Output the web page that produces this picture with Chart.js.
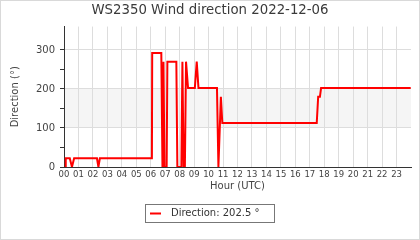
<!DOCTYPE html>
<html>
<head>
<meta charset="utf-8">
<script src="https://cdn.jsdelivr.net/npm/chart.js@4"></script>
<style>
  html, body { margin: 0; padding: 0; background: #fff; }
  #wrap { width: 420px; height: 240px; }
</style>
</head>
<body>
<div id="wrap"><canvas id="windChart" width="420" height="240"></canvas></div>
<script>
    // heure UTC (décimale) et direction du vent (°)
    const hours = [0.08, 0.12, 0.40, 0.55, 0.70, 2.28, 2.38, 2.48, 6.08, 6.10,
                   6.73, 6.81, 6.88, 6.95, 7.10, 7.15, 7.77, 7.84, 8.12, 8.19,
                   8.27, 8.36, 8.44, 8.58, 9.05, 9.18, 9.30, 10.58, 10.68, 10.85,
                   10.95, 17.48, 17.58, 17.70, 17.78, 23.98];
    const directions = [0, 22.5, 22.5, 0, 22.5, 22.5, 0, 22.5, 22.5, 292.5,
                        292.5, 0, 270, 0, 0, 270, 270, 0, 0, 270,
                        0, 0, 270, 202.5, 202.5, 270, 202.5, 202.5, 0, 180,
                        112.5, 112.5, 180, 180, 202.5, 202.5];
    const hourTicks = ['00','01','02','03','04','05','06','07','08','09','10','11',
                       '12','13','14','15','16','17','18','19','20','21','22','23'];
    const yLabels = [0, 100, 200, 300];
    const bandRange = [100, 200];

    const latest = directions[directions.length - 1];
    const seriesLabel = 'Direction: ' + latest + ' °';
    const FONT = 'DejaVu Sans';

    // fond blanc + bande grise 100-200
    const backgroundPlugin = {
        id: 'background',
        beforeDraw(chart) {
            const { ctx, chartArea, scales } = chart;
            ctx.save();
            ctx.fillStyle = '#fff';
            ctx.fillRect(0, 0, chart.width, chart.height);
            const yTop = scales.y.getPixelForValue(bandRange[1]);
            const yBot = scales.y.getPixelForValue(bandRange[0]);
            ctx.fillStyle = '#f5f5f5';
            ctx.fillRect(chartArea.left, yTop, chartArea.right - chartArea.left, yBot - yTop);
            ctx.restore();
        }
    };

    // légende encadrée + bordure de l'image
    const legendPlugin = {
        id: 'boxLegend',
        afterDraw(chart) {
            const ctx = chart.ctx;
            const ds = chart.data.datasets[0];
            ctx.save();
            ctx.font = '10px "' + FONT + '"';
            const tw = ctx.measureText(ds.label).width;
            const w = 4.5 + 11 + 10 + tw + 15;
            const h = 18;
            const left = Math.round(chart.width / 2 - w / 2) + 0.5;
            const top = 204.5;
            ctx.strokeStyle = '#777';
            ctx.lineWidth = 1;
            ctx.strokeRect(left, top, Math.round(w), h);
            ctx.strokeStyle = ds.borderColor;
            ctx.lineWidth = 2;
            ctx.beginPath();
            ctx.moveTo(left + 4.5, top + h / 2);
            ctx.lineTo(left + 15.5, top + h / 2);
            ctx.stroke();
            ctx.fillStyle = '#333';
            ctx.textBaseline = 'middle';
            ctx.fillText(ds.label, left + 25.5, top + h / 2);
            ctx.strokeStyle = '#d9d9d9';
            ctx.lineWidth = 1;
            ctx.strokeRect(0.5, 0.5, chart.width - 1, chart.height - 1);
            ctx.restore();
        }
    };

    const ctx = document.getElementById('windChart').getContext('2d');
    const chart = new Chart(ctx, {
        type: 'line',
        data: {
            datasets: [{
                label: seriesLabel,
                data: hours.map((h, i) => ({ x: h, y: directions[i] })),
                borderColor: '#ff0000',
                borderWidth: 2,
                pointRadius: 0,
                tension: 0,
                fill: false
            }]
        },
        options: {
            responsive: false,
            animation: false,
            layout: { padding: { left: 9, right: 9, top: 0, bottom: 48 } },
            plugins: {
                legend: { display: false },
                tooltip: { enabled: false },
                title: {
                    display: true,
                    text: 'WS2350 Wind direction 2022-12-06',
                    color: '#3a3a3a',
                    font: { family: FONT, size: 13.3, weight: 'normal' },
                    padding: { top: 3, bottom: 7.6 }
                }
            },
            scales: {
                x: {
                    type: 'linear',
                    min: 0,
                    max: 24,
                    afterFit: s => { s.height = 25; },
                    ticks: {
                        stepSize: 1,
                        autoSkip: false,
                        maxRotation: 0,
                        padding: 3,
                        color: '#444',
                        font: { family: FONT, size: 8.5 },
                        callback: v => hourTicks[v] || ''
                    },
                    grid: {
                        drawTicks: false,
                        color: c => (c.tick && c.tick.value > 0 && c.tick.value < 24) ? '#dddddd' : 'rgba(0,0,0,0)'
                    },
                    border: { display: true, color: '#333', width: 1 },
                    title: {
                        display: true,
                        text: 'Hour (UTC)',
                        color: '#444',
                        font: { family: FONT, size: 10 },
                        padding: { top: 0, bottom: 0 }
                    }
                },
                y: {
                    min: 0,
                    max: 360,
                    afterFit: s => { s.width = 55; },
                    ticks: {
                        stepSize: 50,
                        padding: 5,
                        color: '#444',
                        font: { family: FONT, size: 10 },
                        callback: v => yLabels.includes(v) ? v : ''
                    },
                    grid: {
                        tickLength: 4,
                        color: c => (c.tick && c.tick.value > 0 && c.tick.value % 100 === 0) ? '#dddddd' : 'rgba(0,0,0,0)',
                        tickColor: c => (c.tick && c.tick.value % 50 === 0) ? '#333' : 'rgba(0,0,0,0)'
                    },
                    border: { display: true, color: '#333', width: 1 },
                    title: {
                        display: true,
                        text: 'Direction (°)',
                        color: '#444',
                        font: { family: FONT, size: 10 },
                        padding: { top: 0, bottom: 0 }
                    }
                }
            }
        },
        plugins: [backgroundPlugin, legendPlugin]
    });
</script>
</body>
</html>
